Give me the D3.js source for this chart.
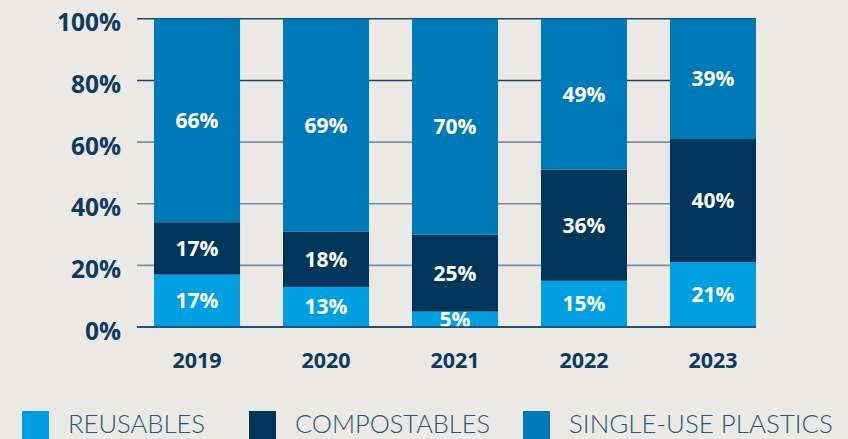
<!DOCTYPE html>
<html>
<head>
<meta charset="utf-8">
<script src="https://cdn.jsdelivr.net/npm/d3@7"></script>
<style>
  html, body { margin: 0; padding: 0; background: #EAE9E5; }
  svg { display: block; }
</style>
</head>
<body>
<svg id="chart" width="848" height="439"></svg>
<script>
// Share of packaging type by year (percent of total)
const years = ["2019", "2020", "2021", "2022", "2023"];
const reusables = [17, 13, 5, 15, 21];
const compostables = [17, 18, 25, 36, 40];
const singleUsePlastics = [66, 69, 70, 49, 39];
const seriesNames = ["REUSABLES", "COMPOSTABLES", "SINGLE-USE PLASTICS"];
const yTicks = [0, 20, 40, 60, 80, 100];

const colors = ["#009FE1", "#003659", "#0079B8"];
const textDark = "#0E3A5C";

const svg = d3.select("#chart");
const W = 848, H = 439;

const rows = years.map((y, i) => ({
  year: y,
  REUSABLES: reusables[i],
  COMPOSTABLES: compostables[i],
  "SINGLE-USE PLASTICS": singleUsePlastics[i]
}));

const stack = d3.stack().keys(seriesNames);
const layers = stack(rows);

const x = d3.scaleBand().domain(years).range([154, 756])
  .paddingInner(0.333).paddingOuter(0).align(0);
const y = d3.scaleLinear().domain([0, 100]).range([327, 18.8]);

const gridLeft = 137, gridRight = 756;

// Gridlines
svg.append("g").selectAll("line")
  .data(yTicks)
  .join("line")
  .attr("x1", gridLeft).attr("x2", gridRight)
  .attr("y1", d => y(d)).attr("y2", d => y(d))
  .attr("stroke", d => (d === 0 || d >= 80) ? "#1D4463" : "#7B8E9D")
  .attr("stroke-width", 1.6);

// Y tick labels
svg.append("g").selectAll("text")
  .data(yTicks)
  .join("text")
  .attr("x", 121)
  .attr("y", d => y(d) + 12.5)
  .attr("text-anchor", "end")
  .attr("font-family", "'Open Sans', sans-serif")
  .attr("font-weight", 700)
  .attr("font-size", 24.5)
  .attr("fill", textDark)
  .text(d => d + "%");

// Stacked bars
const layerG = svg.append("g").selectAll("g")
  .data(layers)
  .join("g")
  .attr("fill", (d, i) => colors[i]);

layerG.selectAll("rect")
  .data(d => d)
  .join("rect")
  .attr("x", d => x(d.data.year))
  .attr("width", x.bandwidth())
  .attr("y", d => y(d[1]))
  .attr("height", d => y(d[0]) - y(d[1]));

// Value labels inside segments
layerG.selectAll("text")
  .data(d => d.map(s => ({ s, v: s[1] - s[0] })))
  .join("text")
  .attr("x", d => x(d.s.data.year) + x.bandwidth() / 2)
  .attr("y", d => (y(d.s[0]) + y(d.s[1])) / 2 + 7.5)
  .attr("text-anchor", "middle")
  .attr("font-family", "'Open Sans', sans-serif")
  .attr("font-weight", 700)
  .attr("font-size", 21)
  .attr("fill", "#FFFFFF")
  .text(d => d.v + "%");

// Baseline redrawn over bars' bottom edge
svg.append("line")
  .attr("x1", gridLeft).attr("x2", gridRight)
  .attr("y1", y(0)).attr("y2", y(0))
  .attr("stroke", "#1D4463").attr("stroke-width", 1.6);

// Year labels
svg.append("g").selectAll("text")
  .data(years)
  .join("text")
  .attr("x", d => x(d) + x.bandwidth() / 2)
  .attr("y", 368)
  .attr("text-anchor", "middle")
  .attr("font-family", "'Open Sans', sans-serif")
  .attr("font-weight", 700)
  .attr("font-size", 21.5)
  .attr("fill", textDark)
  .text(d => d);

// Legend
const legendX = [22, 249, 523];
const legendW = [137, 195, 264];
const legend = svg.append("g").selectAll("g")
  .data(seriesNames)
  .join("g")
  .attr("transform", (d, i) => `translate(${legendX[i]},0)`);

legend.append("rect")
  .attr("x", 0).attr("y", 411)
  .attr("width", 27).attr("height", 28)
  .attr("fill", (d, i) => colors[i]);

legend.append("text")
  .attr("x", 46)
  .attr("y", 432.5)
  .attr("font-family", "Lato, 'Open Sans', sans-serif")
  .attr("font-weight", 300)
  .attr("font-size", 25)
  .attr("fill", "#2A5575")
  .attr("textLength", (d, i) => legendW[i])
  .attr("lengthAdjust", "spacingAndGlyphs")
  .text(d => d);
</script>
</body>
</html>
